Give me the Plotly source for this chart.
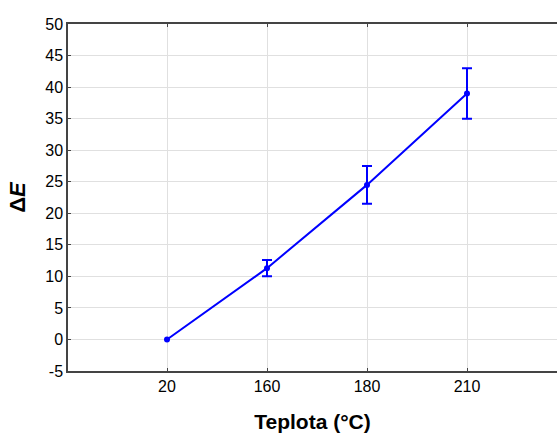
import plotly.graph_objects as go

temperatures = ["20", "160", "180", "210"]
delta_e = [0.0, 11.3, 24.5, 39.0]
delta_e_err = [0.0, 1.3, 3.0, 4.0]

y_ticks = list(range(-5, 51, 5))
y_tick_labels = [str(v) for v in y_ticks]

# error bars only where an error exists
err_x = [t for t, e in zip(temperatures, delta_e_err) if e > 0]
err_y = [v for v, e in zip(delta_e, delta_e_err) if e > 0]
err_v = [e for e in delta_e_err if e > 0]

fig = go.Figure()
fig.add_trace(go.Scatter(
    x=err_x,
    y=err_y,
    mode="markers",
    marker=dict(color="#0000ff", size=1, opacity=0),
    error_y=dict(type="data", array=err_v, visible=True,
                 color="#0000ff", thickness=2, width=5),
    showlegend=False,
    hoverinfo="skip",
))
fig.add_trace(go.Scatter(
    x=temperatures,
    y=delta_e,
    mode="lines+markers",
    line=dict(color="#0000ff", width=2),
    marker=dict(color="#0000ff", size=6),
    showlegend=False,
))

font_family = "Liberation Sans, Arial, sans-serif"
fig.update_layout(
    width=558, height=435,
    margin=dict(l=68, r=1, t=24, b=64, autoexpand=False),
    paper_bgcolor="white",
    plot_bgcolor="white",
    font=dict(family=font_family, size=16, color="#000000"),
    xaxis=dict(
        type="category",
        categoryorder="array",
        categoryarray=temperatures,
        range=[-0.99, 3.9],
        automargin=False,
        showgrid=True, gridcolor="#e0e0e0", gridwidth=1,
        showline=True, linecolor="#444444", linewidth=1.5,
        mirror="ticks",
        ticks="inside", ticklen=3, tickcolor="#444444",
        tickfont=dict(size=16),
        title=dict(text="<b>Teplota (°C)</b>", font=dict(size=21), standoff=20),
        zeroline=False,
    ),
    yaxis=dict(
        range=[-5, 50],
        automargin=False,
        tickmode="array",
        tickvals=y_ticks,
        ticktext=y_tick_labels,
        showgrid=True, gridcolor="#e0e0e0", gridwidth=1,
        showline=True, linecolor="#444444", linewidth=1.5,
        ticks="inside", ticklen=3, tickcolor="#444444",
        tickfont=dict(size=16),
        title=dict(text="<b>Δ<i>E</i></b>", font=dict(size=22), standoff=14),
        zeroline=False,
    ),
)

fig.write_html(
    "out.html",
    config={"displayModeBar": False},
    post_script="document.body.style.margin='0';document.body.style.overflow='hidden';",
)
